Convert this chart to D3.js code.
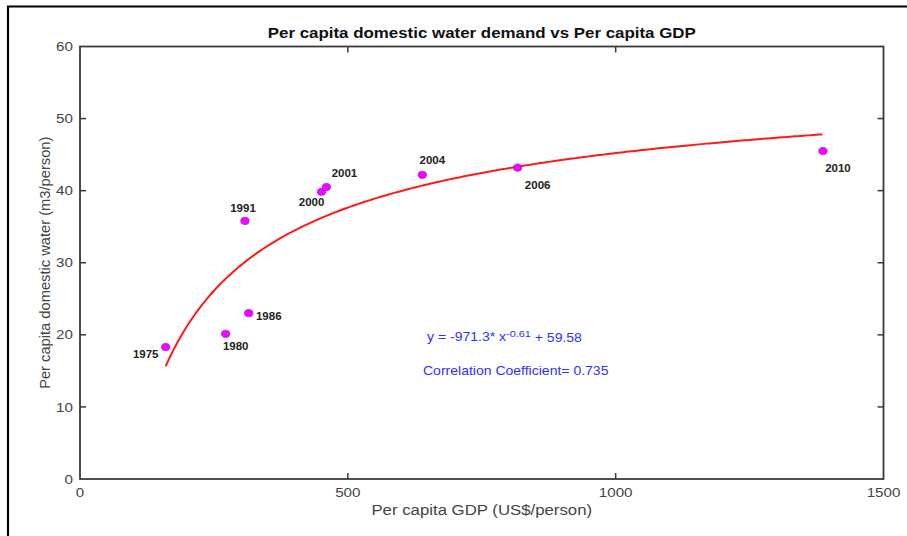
<!DOCTYPE html>
<html>
<head>
<meta charset="utf-8">
<script src="https://cdn.jsdelivr.net/npm/d3@7"></script>
<style>
  html, body { margin: 0; padding: 0; background: #fff; }
  svg { display: block; font-family: "Liberation Sans", Arial, sans-serif; }
</style>
</head>
<body>
<svg id="chart" width="907" height="536"></svg>
<script>
// ---- data ----
const years = ["1975", "1980", "1986", "1991", "2000", "2001", "2004", "2006", "2010"];
const gdp = [160, 272, 315, 308, 451, 460, 639, 817, 1387];
const demand = [18.3, 20.15, 23.0, 35.8, 39.85, 40.5, 42.2, 43.2, 45.5];
// label offsets in pixels relative to the point [dx, dy]
const labelDx = [-20, 10, 20, -2, -10, 18, 10, 20, 15];
const labelDy = [7, 13, 3, -12, 11, -14, -14, 18, 17];
const xTicks = [0, 500, 1000, 1500];
const yTicks = [0, 10, 20, 30, 40, 50, 60];
// fitted model y = a * x^b + c (as printed on the chart)
const fitA = -971.3, fitB = -0.61, fitC = 59.58;
const fitRange = [160, 1386];
const titleText = "Per capita domestic water demand vs Per capita GDP";
const xLabel = "Per capita GDP (US$/person)";
const yLabel = "Per capita domestic water (m3/person)";
const eqText = "Correlation Coefficient= 0.735";

// ---- layout ----
const svg = d3.select("#chart");
const L = 80, R = 883.5, T = 46.5, B = 479;
const SX = 1.15; // horizontal text stretch seen in the reference
const x = d3.scaleLinear().domain([0, 1500]).range([L, R]);
const y = d3.scaleLinear().domain([0, 60]).range([B, T]);

function stext(px, py, size, anchor) {
  return svg.append("text")
    .attr("transform", `translate(${px},${py}) scale(${SX},1)`)
    .attr("dy", "0.35em").attr("text-anchor", anchor).attr("font-size", size);
}

// outer frame (top + left visible)
svg.append("path").attr("d", `M8,538 L8,6.5 L907,6.5`)
  .attr("fill", "none").attr("stroke", "#000").attr("stroke-width", 2.2);

// axes box
const axisCol = "#3a3a3a";
svg.append("rect").attr("x", L).attr("y", T).attr("width", R - L).attr("height", B - T)
  .attr("fill", "none").attr("stroke", axisCol).attr("stroke-width", 1.8);

const tl = 6;
const g = svg.append("g");
xTicks.forEach(t => {
  if (t === 0 || t === 1500) return;
  g.append("line").attr("x1", x(t)).attr("x2", x(t)).attr("y1", B).attr("y2", B - tl).attr("stroke", axisCol).attr("stroke-width", 1.5);
  g.append("line").attr("x1", x(t)).attr("x2", x(t)).attr("y1", T).attr("y2", T + tl).attr("stroke", axisCol).attr("stroke-width", 1.5);
});
yTicks.forEach(t => {
  if (t === 0 || t === 60) return;
  g.append("line").attr("x1", L).attr("x2", L + tl).attr("y1", y(t)).attr("y2", y(t)).attr("stroke", axisCol).attr("stroke-width", 1.5);
  g.append("line").attr("x1", R).attr("x2", R - tl).attr("y1", y(t)).attr("y2", y(t)).attr("stroke", axisCol).attr("stroke-width", 1.5);
});
// tick labels
xTicks.forEach(t => {
  stext(x(t), 492, 13.2, "middle").attr("fill", "#444").text(t);
});
yTicks.forEach(t => {
  stext(L - 7, y(t), 13.2, "end").attr("fill", "#444").text(t);
});

// axis titles
stext((L + R) / 2, 510, 14.6, "middle").attr("fill", "#444").text(xLabel);
svg.append("text").attr("transform", `translate(45,${(T + B) / 2}) rotate(-90)`).attr("dy", "0.35em")
  .attr("text-anchor", "middle").attr("font-size", 14.7).attr("fill", "#444").text(yLabel);

// title
stext((L + R) / 2, 33, 14.7, "middle").attr("font-weight", "bold").attr("fill", "#111").text(titleText);

// fitted curve
const curvePts = d3.range(fitRange[0], fitRange[1] + 0.1, 5).concat([fitRange[1]]);
const line = d3.line().x(d => x(d)).y(d => y(fitA * Math.pow(d, fitB) + fitC));
svg.append("path").datum(curvePts).attr("d", line)
  .attr("fill", "none").attr("stroke", "#ff1a1a").attr("stroke-width", 2);

// points
const pts = years.map((yr, i) => ({ yr, gx: gdp[i], dv: demand[i], dx: labelDx[i], dy: labelDy[i] }));
svg.selectAll("ellipse.pt").data(pts).enter().append("ellipse")
  .attr("cx", d => x(d.gx)).attr("cy", d => y(d.dv)).attr("rx", 4.2).attr("ry", 3.6)
  .attr("fill", "#ff00ff").attr("stroke", "#7a2cff").attr("stroke-width", 0.8);
pts.forEach(d => {
  stext(x(d.gx) + d.dx, y(d.dv) + d.dy, 10, "middle")
    .attr("font-weight", "bold").attr("fill", "#222").text(d.yr);
});

// equation
const eq = stext(427, 337, 12.2, "start").attr("fill", "#3030ff");
eq.append("tspan").text(`y = ${fitA}* x`);
eq.append("tspan").attr("dy", "-0.45em").attr("font-size", 9.5).text(`${fitB}`);
eq.append("tspan").attr("dy", "0.45em").text(` + ${fitC}`);
stext(423, 371, 12.2, "start").attr("fill", "#3030ff").text(eqText);
</script>
</body>
</html>
